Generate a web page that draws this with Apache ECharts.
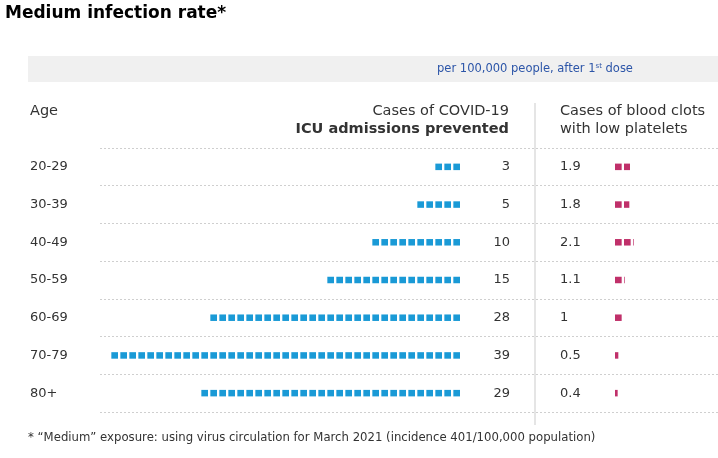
<!DOCTYPE html>
<html><head><meta charset="utf-8">
<script src="https://cdn.jsdelivr.net/npm/echarts@6/dist/echarts.min.js"></script>
<style>html,body{margin:0;padding:0;background:#fff}#c{width:718px;height:458px}</style>
</head><body><div id="c"></div>
<script>
const ages = ['20-29','30-39','40-49','50-59','60-69','70-79','80+'];
const icuPrevented = [3,5,10,15,28,39,29];
const bloodClots = [1.9,1.8,2.1,1.1,1,0.5,0.4];
const icuMax = 39;
const clotMax = 3;

const FONT = 'DejaVu Sans';
const TXT = '#333';
const BLUE = '#1a9ad6';
const PINK = '#c0306a';
const SQ = 0.74;   // filled share of each unit slot

function squares(color, textOffset, textAlign) {
  return function (params, api) {
    const v = api.value(0), row = api.value(1);
    const c0 = api.coord([0, row]);
    const h = 6.5;
    const children = [];
    for (let k = 0; k < Math.ceil(v - 1e-9); k++) {
      const w = Math.min(1, v - k);
      const a = api.coord([k, row])[0];
      const b = api.coord([k + w * SQ, row])[0];
      children.push({
        type: 'rect',
        shape: {x: Math.min(a, b), y: c0[1] - h / 2, width: Math.abs(b - a), height: h},
        style: {fill: color}
      });
    }
    children.push({
      type: 'text',
      style: {
        x: c0[0] + textOffset, y: c0[1], text: String(v),
        textAlign: textAlign, textVerticalAlign: 'middle',
        font: '13px "' + FONT + '"', fill: TXT
      }
    });
    return {type: 'group', children: children};
  };
}

const chart = echarts.init(document.getElementById('c'));
const gTop = 148, gH = 264;
const HF = '14.5px "' + FONT + '"';
chart.setOption({
  animation: false,
  textStyle: {fontFamily: FONT},
  grid: [
    {left: 100, right: 0, top: gTop, height: gH},
    {left: 109, width: 351, top: gTop, height: gH},
    {left: 615, width: 27, top: gTop, height: gH}
  ],
  xAxis: [
    {gridIndex: 0, type: 'value', show: false, min: 0, max: 1},
    {gridIndex: 1, type: 'value', show: false, min: 0, max: icuMax, inverse: true},
    {gridIndex: 2, type: 'value', show: false, min: 0, max: clotMax}
  ],
  yAxis: [
    {gridIndex: 0, type: 'category', data: ages, inverse: true,
     axisLine: {show: false}, axisTick: {show: false},
     axisLabel: {margin: 70, align: 'left', fontSize: 13, color: TXT, fontFamily: FONT},
     splitLine: {show: true, interval: 0, lineStyle: {type: [2, 2], color: '#cfcfcf', width: 1}}},
    {gridIndex: 1, type: 'category', data: ages, inverse: true, show: false},
    {gridIndex: 2, type: 'category', data: ages, inverse: true, show: false}
  ],
  series: [
    {type: 'custom', xAxisIndex: 1, yAxisIndex: 1,
     data: icuPrevented.map((v, i) => [v, i]),
     renderItem: squares(BLUE, 50, 'right')},
    {type: 'custom', xAxisIndex: 2, yAxisIndex: 2,
     data: bloodClots.map((v, i) => [v, i]),
     renderItem: squares(PINK, -55, 'left')}
  ],
  graphic: [
    {type: 'text', left: 5, top: 5, style: {text: 'Medium infection rate*', font: 'bold 17px "' + FONT + '"', fill: '#000'}},
    {type: 'rect', shape: {x: 28, y: 56, width: 690, height: 26}, style: {fill: '#f0f0f0'}, silent: true},
    {type: 'text', style: {x: 535, y: 69, textAlign: 'center', textVerticalAlign: 'middle',
      rich: {a: {fontSize: 11.5, fontFamily: FONT, fill: '#2c55a8'}, s: {fontSize: 7, fontFamily: FONT, fill: '#2c55a8', verticalAlign: 'top', padding: [0, 0, 6, 0]}},
      text: '{a|per 100,000 people, after 1}{s|st}{a| dose}'}},
    {type: 'line', shape: {x1: 535, y1: 103, x2: 535, y2: 425}, style: {stroke: '#dddddd', lineWidth: 1.5}},
    {type: 'text', style: {x: 30, y: 111, text: 'Age', textVerticalAlign: 'middle', font: HF, fill: TXT}},
    {type: 'text', style: {x: 509, y: 111, text: 'Cases of COVID-19', textAlign: 'right', textVerticalAlign: 'middle', font: HF, fill: TXT}},
    {type: 'text', style: {x: 509, y: 129, text: 'ICU admissions prevented', textAlign: 'right', textVerticalAlign: 'middle', font: 'bold ' + HF, fill: TXT}},
    {type: 'text', style: {x: 560, y: 111, text: 'Cases of blood clots', textVerticalAlign: 'middle', font: HF, fill: TXT}},
    {type: 'text', style: {x: 560, y: 129, text: 'with low platelets', textVerticalAlign: 'middle', font: HF, fill: TXT}},
    {type: 'text', style: {x: 28, y: 438, text: '* \u201cMedium\u201d exposure: using virus circulation for March 2021 (incidence 401/100,000 population)', textVerticalAlign: 'middle', font: '11.7px "' + FONT + '"', fill: TXT}}
  ]
});
</script></body></html>
